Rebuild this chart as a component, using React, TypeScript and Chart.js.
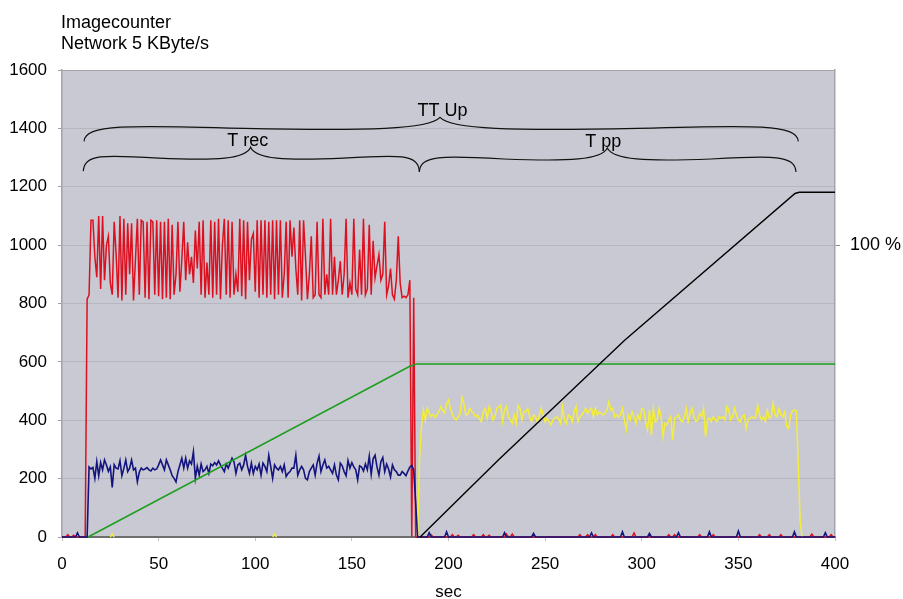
import React, { useEffect, useRef } from "react";
import { Chart, registerables } from "chart.js";

Chart.register(...registerables);

const FONT = '"Liberation Sans", Arial, Helvetica, sans-serif';

// ---- text ----
const titleLines = ["Imagecounter", "Network 5 KByte/s"];
const xAxisTitle = "sec";
const rightTickValue = 1000;
const rightTickLabel = "100 %";

// ---- red series (1 s samples, t = 13 .. 183) ----
const redStart = 13;
const redValues = [
  815, 830, 1085, 1085, 960, 890, 1100, 850, 1100, 880,
  1000, 1030, 870, 830, 1080, 970, 820, 1100, 810, 1090,
  830, 1075, 900, 1075, 810, 950, 1090, 830, 1085, 1080,
  820, 1080, 815, 1085, 1080, 830, 1085, 825, 1080, 815,
  1080, 820, 1090, 815, 1070, 830, 900, 1080, 840, 950,
  1080, 880, 1010, 900, 960, 870, 1050, 920, 1080, 830,
  1085, 820, 940, 830, 1085, 820, 1080, 830, 1090, 815,
  1000, 1090, 830, 1085, 820, 1080, 830, 900, 840, 1090,
  825, 1085, 815, 1080, 880, 1020, 1040, 840, 1085, 820,
  1085, 830, 1085, 820, 1080, 830, 1085, 815, 1085, 830,
  1085, 820, 900, 1080, 820, 1085, 960, 1060, 920, 830,
  1085, 810, 1085, 960, 815, 900, 1030, 820, 830, 1080,
  830, 820, 1090, 830, 900, 830, 1090, 830, 960, 830,
  880, 945, 830, 900, 1090, 820, 870, 830, 1090, 850,
  830, 985, 830, 1090, 830, 850, 1070, 830, 1015, 888,
  930, 968, 880, 900, 1080, 830, 860, 920, 830, 815,
  880, 1030, 870, 820, 825, 820, 830, 880, 0, 820,
  0,
];
const redBlipTimes = [3, 6, 191, 202, 205, 213, 218, 221, 230, 233, 268, 272, 276, 285, 296, 314, 317, 330, 337, 361, 366, 372, 388, 398];
const redBlipValues = [8, 6, 8, 8, 6, 8, 8, 6, 10, 10, 8, 8, 8, 8, 14, 8, 8, 8, 8, 8, 8, 8, 10, 8];

// ---- navy series (t = 14 .. 184) ----
const navyStart = 14;
const navyValues = [
  240, 233, 238, 201, 258, 210, 255, 230, 264, 247,
  225, 240, 170, 248, 236, 233, 261, 210, 235, 264,
  224, 236, 264, 230, 236, 189, 222, 236, 230, 233,
  238, 230, 226, 236, 230, 233, 247, 264, 247, 230,
  264, 247, 230, 210, 201, 189, 224, 247, 270, 236,
  270, 236, 261, 250, 292, 201, 242, 212, 250, 224,
  230, 242, 218, 250, 244, 255, 247, 261, 247, 236,
  224, 250, 236, 253, 270, 258, 218, 247, 253, 230,
  247, 280, 242, 218, 253, 218, 242, 230, 250, 212,
  253, 242, 224, 280, 242, 201, 247, 236, 230, 242,
  224, 247, 207, 218, 224, 236, 236, 280, 212, 230,
  242, 230, 201, 196, 224, 236, 247, 212, 253, 277,
  224, 247, 264, 236, 242, 230, 218, 247, 212, 196,
  253, 244, 224, 210, 262, 236, 255, 240, 230, 196,
  244, 240, 226, 250, 230, 277, 215, 268, 280, 240,
  212, 258, 272, 224, 250, 233, 206, 247, 230, 224,
  212, 212, 224, 218, 210, 226, 240, 245, 230, 120,
  0,
];
const navyBlipTimes = [8, 190, 199, 229, 244, 274, 290, 304, 319, 335, 350, 379, 395];
const navyBlipValues = [14, 15, 18, 15, 12, 14, 18, 12, 15, 18, 20, 18, 15];

// ---- yellow series (t = 184 .. 383) ----
const yellowStart = 184;
const yellowValues = [
  0, 270, 378, 435, 401, 441, 425, 412, 420, 410,
  418, 430, 447, 435, 425, 455, 469, 440, 420, 406,
  401, 412, 420, 479, 455, 418, 420, 441, 430, 424,
  412, 418, 405, 395, 429, 441, 407, 447, 430, 401,
  412, 441, 445, 452, 395, 435, 447, 412, 400, 389,
  418, 390, 452, 440, 401, 429, 429, 441, 412, 395,
  418, 412, 395, 418, 441, 418, 395, 407, 395, 384,
  401, 407, 412, 404, 389, 447, 401, 389, 418, 412,
  395, 429, 447, 395, 412, 418, 429, 441, 424, 435,
  441, 412, 441, 418, 429, 424, 418, 424, 435, 463,
  435, 441, 412, 418, 412, 418, 441, 401, 367, 418,
  401, 429, 412, 389, 418, 401, 441, 435, 395, 367,
  435, 349, 441, 395, 401, 441, 412, 344, 389, 384,
  401, 412, 332, 407, 412, 418, 401, 395, 407, 441,
  395, 424, 441, 412, 395, 401, 424, 412, 441, 344,
  401, 407, 395, 412, 401, 395, 412, 407, 412, 401,
  447, 435, 401, 412, 441, 418, 401, 395, 412, 418,
  372, 401, 407, 412, 407, 412, 452, 418, 401, 412,
  395, 435, 407, 412, 458, 418, 412, 440, 418, 412,
  429, 380, 372, 418, 432, 435, 432, 250, 50, 0,
];
const yellowBlipTimes = [26, 110];
const yellowBlipValues = [10, 10];

// ---- green and black ramps ----
const greenTimes = [13.5, 180, 183.5, 400];
const greenValues = [0, 585, 593, 593];
const blackTimes = [185.3, 225.8, 291.3, 379.3, 381.5, 400];
const blackValues = [0, 264, 675, 1177, 1181, 1181];

const seriesEnd = 400;

// ---- brace annotations ----
const braceLabels = ["TT Up", "T rec", "T pp"];
const braceFrom = [11.4, 11, 184.9];
const braceTo = [381, 184.9, 379.8];
const braceTip = [195.6, 97.6, 282.2];
const braceLabelAt = [196.9, 96.1, 280.1];
const braceLevel = [1400, 1298, 1295];

type Pt = { x: number; y: number };

function buildSeries(start: number, values: number[], blipTimes: number[], blipValues: number[], end: number): Pt[] {
  const pts: Pt[] = [{ x: 0, y: 0 }];
  const last = start + values.length - 1;
  const addBlip = (t: number, v: number) => {
    pts.push({ x: t - 1, y: 0 }, { x: t, y: v }, { x: t + 1, y: 0 });
  };
  blipTimes.forEach((t, i) => {
    if (t < start) addBlip(t, blipValues[i]);
  });
  pts.push({ x: start - 1, y: 0 });
  values.forEach((v, i) => pts.push({ x: start + i, y: v }));
  blipTimes.forEach((t, i) => {
    if (t > last) addBlip(t, blipValues[i]);
  });
  pts.push({ x: end, y: 0 });
  return pts;
}

function zip(times: number[], values: number[]): Pt[] {
  return times.map((t, i) => ({ x: t, y: values[i] }));
}

function drawBrace(ctx: CanvasRenderingContext2D, x1: number, xm: number, x2: number, yb: number) {
  const yEnd = yb + 13;
  const yTip = yb - 11;
  const L = xm - x1;
  const R = x2 - xm;
  ctx.beginPath();
  ctx.moveTo(x1, yEnd);
  ctx.bezierCurveTo(x1 + 1, yb - 4, x1 + 0.12 * L, yb - 3.5, x1 + 0.45 * L, yb);
  ctx.bezierCurveTo(x1 + 0.8 * L, yb + 2.5, xm - 0.03 * L, yb + 1, xm, yTip);
  ctx.bezierCurveTo(xm + 0.03 * R, yb + 1, x2 - 0.8 * R, yb + 2.5, x2 - 0.45 * R, yb);
  ctx.bezierCurveTo(x2 - 0.12 * R, yb - 3.5, x2 - 1, yb - 4, x2, yEnd);
  ctx.stroke();
  return yTip;
}

const decorPlugin = {
  id: "decor",
  beforeDraw(chart: any) {
    const { ctx, chartArea } = chart;
    ctx.save();
    ctx.fillStyle = "#ffffff";
    ctx.fillRect(0, 0, chart.width, chart.height);
    ctx.fillStyle = "#C9C9D3";
    ctx.fillRect(chartArea.left, chartArea.top, chartArea.right - chartArea.left, chartArea.bottom - chartArea.top);
    ctx.restore();
  },
  afterDraw(chart: any) {
    const { ctx, chartArea, scales } = chart;
    const xs = scales.x;
    const ys = scales.y;
    ctx.save();
    ctx.fillStyle = "#000";
    ctx.font = `18px ${FONT}`;
    ctx.textAlign = "left";
    ctx.textBaseline = "alphabetic";
    ctx.fillText(titleLines[0], chartArea.left - 1, 27.5);
    ctx.fillText(titleLines[1], chartArea.left - 1, 49);

    ctx.strokeStyle = "#111";
    ctx.lineWidth = 1.2;
    ctx.textAlign = "center";
    braceLabels.forEach((label, i) => {
      const x1 = xs.getPixelForValue(braceFrom[i]);
      const x2 = xs.getPixelForValue(braceTo[i]);
      const xm = xs.getPixelForValue(braceTip[i]);
      const yb = ys.getPixelForValue(braceLevel[i]);
      const yTip = drawBrace(ctx, x1, xm, x2, yb);
      ctx.fillText(label, xs.getPixelForValue(braceLabelAt[i]), yTip - 1.5);
    });
    ctx.restore();
  },
};

export default function App() {
  const canvasRef = useRef<HTMLCanvasElement | null>(null);

  useEffect(() => {
    const canvas = canvasRef.current;
    if (!canvas) return;
    Chart.defaults.font.family = FONT;
    const lineDs = (label: string, data: Pt[], color: string, width = 1.5, hideZeroRuns = false) => ({
      label,
      data,
      borderColor: color,
      backgroundColor: color,
      borderWidth: width,
      pointRadius: 0,
      tension: 0,
      fill: false,
      clip: 3,
      segment: hideZeroRuns
        ? {
            borderColor: (c: any) =>
              c.p0.parsed.y === 0 && c.p1.parsed.y === 0 ? "rgba(0,0,0,0)" : undefined,
          }
        : undefined,
    });
    const chart = new Chart(canvas, {
      type: "line",
      data: {
        datasets: [
          lineDs("black", zip(blackTimes, blackValues), "#000000", 1.4),
          lineDs("green", zip(greenTimes, greenValues), "#1E9E1E", 1.5),
          lineDs("navy", buildSeries(navyStart, navyValues, navyBlipTimes, navyBlipValues, seriesEnd), "#14147E", 1.6),
          lineDs("yellow", buildSeries(yellowStart, yellowValues, yellowBlipTimes, yellowBlipValues, seriesEnd), "#F4EE3A", 1.5, true),
          lineDs("red", buildSeries(redStart, redValues, redBlipTimes, redBlipValues, seriesEnd), "#DD1020", 1.5),
        ] as any,
      },
      options: {
        animation: false,
        responsive: false,
        parsing: true,
        layout: { padding: { top: 70, left: 0, right: 0, bottom: 0 } },
        plugins: {
          legend: { display: false },
          tooltip: { enabled: false },
          title: { display: false },
        },
        scales: {
          x: {
            type: "linear",
            min: 0,
            max: 400,
            ticks: {
              stepSize: 50,
              color: "#000",
              font: { size: 17, family: FONT },
              padding: 13,
              maxRotation: 0,
              callback: (v: any) => String(v),
            },
            grid: {
              drawOnChartArea: false,
              drawTicks: true,
              tickLength: 4,
              tickColor: "#c4c4c4",
            },
            border: { display: true, color: "#6e6e6e", width: 2 },
            title: {
              display: true,
              text: xAxisTitle,
              color: "#000",
              font: { size: 17, family: FONT, lineHeight: 1.0 },
              padding: { top: 0, bottom: -2 },
            },
            afterFit: (scale: any) => {
              scale.height = 62;
            },
          },
          y: {
            type: "linear",
            position: "left",
            min: 0,
            max: 1600,
            ticks: {
              stepSize: 200,
              color: "#000",
              font: { size: 17, family: FONT },
              padding: 11,
              callback: (v: any) => String(v),
            },
            grid: {
              color: (c: any) => (c.tick && c.tick.value === 0 ? "rgba(0,0,0,0)" : c.tick && c.tick.value === 1600 ? "#a4a4ac" : "#b6b6c0"),
              tickColor: "#a0a0a0",
              tickLength: 4,
              lineWidth: 1,
            },
            border: { display: true, color: "#a4a4ac", width: 1.5 },
            afterFit: (scale: any) => {
              scale.width = 62;
            },
          },
          y2: {
            type: "linear",
            position: "right",
            min: 0,
            max: 1600,
            afterBuildTicks: (scale: any) => {
              scale.ticks = [{ value: rightTickValue }];
            },
            ticks: {
              color: "#000",
              font: { size: 18, family: FONT },
              padding: 10,
              callback: () => rightTickLabel,
            },
            grid: {
              drawOnChartArea: false,
              drawTicks: true,
              tickLength: 5,
              tickColor: "#8a8a8a",
            },
            border: { display: true, color: "#a4a4ac", width: 1.5 },
            afterFit: (scale: any) => {
              scale.width = 68;
            },
          },
        },
      } as any,
      plugins: [decorPlugin as any],
    });
    return () => chart.destroy();
  }, []);

  return (
    <div style={{ position: "absolute", left: 0, top: 0, width: 903, height: 599, background: "#fff" }}>
      <canvas ref={canvasRef} width={903} height={599} style={{ display: "block" }} />
    </div>
  );
}
